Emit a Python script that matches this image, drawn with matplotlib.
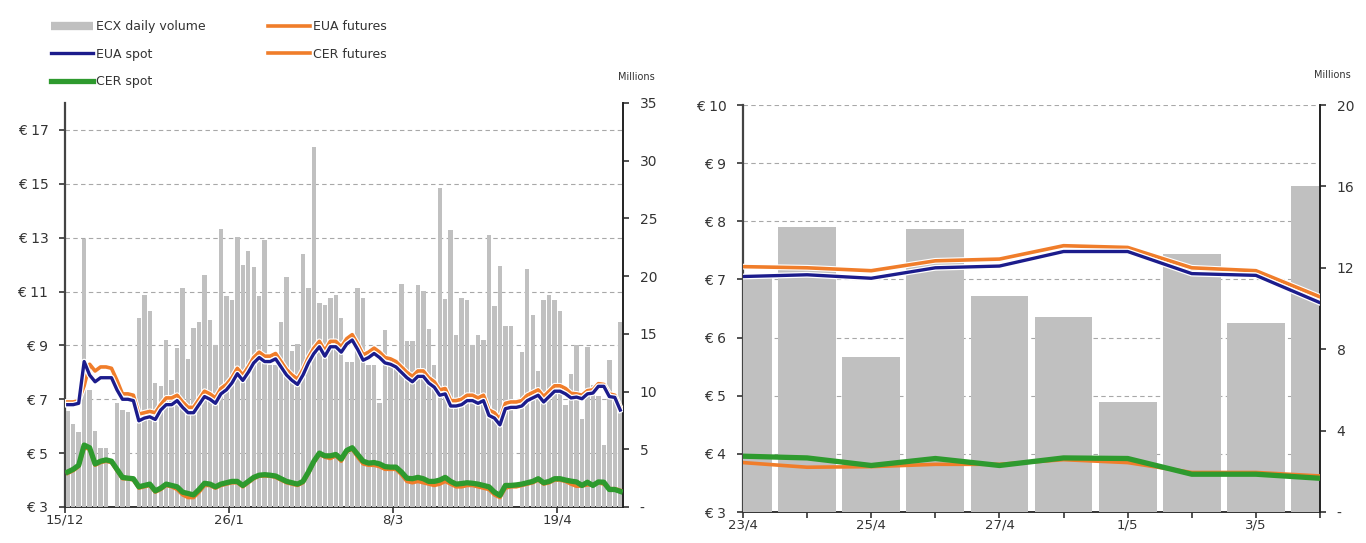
import pandas as pd
import matplotlib.pyplot as plt
from matplotlib.lines import Line2D
import matplotlib.patheffects as pe

# Trading days 15/12/2011 - 4/5/2012 (one category per weekday)
dates = pd.bdate_range('2011-12-15', '2012-05-04')
date_labels = [f'{d.day}/{d.month}' for d in dates]

nan = float('nan')

# ECX daily volume (millions)
ecx_volume = [
    8.3, 7.2, 6.5, 23.2, 10.1, 6.6, 5.1, 5.1, nan, 9.0,
    8.4, 8.2, nan, 16.4, 18.4, 17.0, 10.7, 10.5, 14.5, 11.0,
    13.8, 19.0, 12.8, 15.5, 16.0, 20.1, 16.2, 14.0, 24.1, 18.3,
    17.9, 23.4, 21.0, 22.2, 20.8, 18.3, 23.1, 12.3, 12.3, 16.0,
    19.9, 13.5, 14.1, 21.9, 19.0, 31.2, 17.7, 17.5, 18.1, 18.4,
    16.4, 12.6, 12.6, 19.0, 18.1, 12.3, 12.3, 9.0, 15.3, 12.7,
    12.7, 19.3, 14.4, 14.4, 19.2, 18.7, 15.4, 12.3, 27.6, 18.0,
    24.0, 14.9, 18.1, 17.9, 14.0, 14.9, 14.5, 23.6, 17.4, 20.9,
    15.7, 15.7, nan, 13.4, 20.6, 16.6, 11.8, 17.9, 18.4, 17.9,
    17.0, 8.8, 11.5, 14.0, 7.6, 13.9, 10.6, 9.6, 5.4, 12.7,
    9.3, 16.0,
]

eua_spot = [
    6.8, 6.8, 6.85, 8.4, 7.9, 7.65, 7.8, 7.8, 7.8, 7.35,
    7.0, 7.0, 6.95, 6.2, 6.3, 6.35, 6.25, 6.6, 6.8, 6.8,
    6.95, 6.7, 6.5, 6.5, 6.8, 7.1, 7.0, 6.85, 7.2, 7.35,
    7.6, 7.95, 7.7, 8.0, 8.35, 8.55, 8.4, 8.4, 8.5, 8.2,
    7.9, 7.7, 7.55, 7.9, 8.35, 8.7, 8.95, 8.6, 8.95, 8.95,
    8.75, 9.05, 9.2, 8.85, 8.45, 8.55, 8.7, 8.55, 8.35, 8.3,
    8.2, 8.0, 7.8, 7.65, 7.85, 7.85, 7.6, 7.45, 7.15, 7.2,
    6.75, 6.75, 6.8, 6.95, 6.95, 6.85, 6.95, 6.4, 6.3, 6.05,
    6.65, 6.7, 6.7, 6.75, 6.95, 7.05, 7.15, 6.9, 7.1, 7.3,
    7.3, 7.2, 7.05, 7.08, 7.02, 7.2, 7.23, 7.48, 7.48, 7.1,
    7.07, 6.6,
]

eua_futures = [
    6.9, 6.9, 6.95, 7.5, 8.3, 8.05, 8.2, 8.2, 8.15, 7.7,
    7.2, 7.2, 7.15, 6.45, 6.5, 6.55, 6.5, 6.8, 7.05, 7.05,
    7.15, 6.9, 6.7, 6.7, 7.0, 7.3, 7.2, 7.05, 7.4, 7.55,
    7.8, 8.15, 7.9, 8.2, 8.55, 8.75, 8.6, 8.6, 8.7, 8.4,
    8.1, 7.9, 7.75, 8.1, 8.55, 8.9, 9.15, 8.8, 9.15, 9.15,
    8.95, 9.25, 9.4, 9.05, 8.65, 8.75, 8.9, 8.75, 8.55, 8.5,
    8.4, 8.2, 8.0, 7.85, 8.05, 8.05, 7.8, 7.65, 7.35, 7.4,
    6.95, 6.95, 7.0, 7.15, 7.15, 7.05, 7.15, 6.6, 6.5, 6.25,
    6.85, 6.9, 6.9, 6.95, 7.15, 7.25, 7.35, 7.1, 7.3, 7.5,
    7.5, 7.4, 7.22, 7.2, 7.15, 7.32, 7.35, 7.58, 7.55, 7.2,
    7.15, 6.7,
]

cer_spot = [
    4.3, 4.4, 4.55, 5.3, 5.2, 4.6, 4.7, 4.75, 4.7, 4.4,
    4.1, 4.07, 4.05, 3.75, 3.8, 3.85, 3.6, 3.7, 3.85, 3.8,
    3.75, 3.55, 3.5, 3.45, 3.65, 3.88, 3.85, 3.75, 3.85, 3.9,
    3.95, 3.95, 3.8, 3.95, 4.1, 4.18, 4.2, 4.18, 4.15, 4.05,
    3.95, 3.9, 3.85, 3.95, 4.3, 4.7, 5.0, 4.9, 4.9, 4.95,
    4.78, 5.1, 5.2, 4.95, 4.7, 4.63, 4.65, 4.6, 4.5, 4.48,
    4.48, 4.3, 4.07, 4.05, 4.1, 4.05, 3.95, 3.95, 4.0, 4.1,
    3.95, 3.85, 3.87, 3.9, 3.88, 3.85, 3.8, 3.75, 3.55, 3.43,
    3.8, 3.8, 3.82, 3.85, 3.9, 3.95, 4.05, 3.9, 3.95, 4.05,
    4.05, 4.0, 3.96, 3.93, 3.8, 3.92, 3.8, 3.93, 3.92, 3.65,
    3.65, 3.58,
]

cer_futures = [
    4.25, 4.35, 4.5, 5.2, 5.15, 4.55, 4.65, 4.7, 4.65, 4.35,
    4.05, 4.05, 4.0, 3.7, 3.75, 3.8, 3.55, 3.65, 3.8, 3.75,
    3.65, 3.45, 3.35, 3.35, 3.55, 3.8, 3.8, 3.7, 3.8, 3.85,
    3.9, 3.9, 3.75, 3.9, 4.05, 4.15, 4.15, 4.15, 4.1, 4.0,
    3.9, 3.85, 3.8, 3.9, 4.25, 4.65, 4.95, 4.85, 4.8, 4.9,
    4.7, 5.05, 5.15, 4.85, 4.6, 4.55, 4.55, 4.5, 4.4, 4.4,
    4.4, 4.2, 3.95, 3.9, 3.95, 3.9, 3.85, 3.8, 3.85, 3.95,
    3.85, 3.75, 3.75, 3.8, 3.8, 3.75, 3.7, 3.65, 3.45, 3.35,
    3.7, 3.75, 3.75, 3.8, 3.85, 3.9, 4.0, 3.85, 3.9, 4.0,
    4.0, 3.95, 3.85, 3.77, 3.78, 3.82, 3.82, 3.9, 3.85, 3.68,
    3.68, 3.62,
]

# colours
GREY = '#c0c0c0'
NAVY = '#1c1c8c'
ORANGE = '#f07d2a'
GREEN = '#2e9a2e'
TXT = '#333333'

W, H = 1366, 543
fig = plt.figure(figsize=(W / 100, H / 100), dpi=100)


def euro(v, pos=None):
    return f'€ {int(v)}'


def millions(v, pos=None):
    return '-' if v == 0 else f'{int(v)}'


def panel(x0, x1, ytop, ybot, xs, vol, eua_s, eua_f, cer_s, cer_f,
          plim, pticks, vlim, vticks, bar_w, xlim):
    rect = [x0 / W, 1 - ybot / H, (x1 - x0) / W, (ybot - ytop) / H]
    axg = fig.add_axes(rect)        # price axis + grid (bottom layer)
    axv = axg.twinx()               # volume bars
    axl = axg.twinx()               # price lines (top layer)
    axg.set_zorder(1)
    axv.set_zorder(2)
    axl.set_zorder(3)
    axv.patch.set_visible(False)
    axl.patch.set_visible(False)

    axv.bar(xs, vol, width=bar_w, color=GREY, linewidth=0)

    halo = [pe.Stroke(linewidth=4.2, foreground='white'), pe.Normal()]
    axl.plot(xs, eua_f, color=ORANGE, lw=2.6, solid_joinstyle='round',
             path_effects=halo)
    axl.plot(xs, eua_s, color=NAVY, lw=2.4, solid_joinstyle='round',
             path_effects=halo)
    axl.plot(xs, cer_f, color=ORANGE, lw=2.6, solid_joinstyle='round')
    axl.plot(xs, cer_s, color=GREEN, lw=3.8, solid_joinstyle='round')

    for a in (axg, axv, axl):
        a.set_xlim(*xlim)
    axg.set_ylim(*plim)
    axl.set_ylim(*plim)
    axv.set_ylim(*vlim)
    axl.set_axis_off()

    axg.set_yticks(pticks)
    axg.yaxis.set_major_formatter(plt.FuncFormatter(euro))
    axg.yaxis.grid(True, color='#a8a8a8', lw=0.8, linestyle=(0, (4, 3)))
    axg.set_axisbelow(True)
    axv.set_yticks(vticks)
    axv.yaxis.set_major_formatter(plt.FuncFormatter(millions))

    axg.spines['top'].set_visible(False)
    axg.spines['right'].set_visible(False)
    axg.spines['left'].set_color('#444444')
    axg.spines['left'].set_linewidth(1.6)
    axg.spines['bottom'].set_color('#333333')
    axg.spines['bottom'].set_linewidth(1.4)
    for s in ('top', 'left', 'bottom'):
        axv.spines[s].set_visible(False)
    axv.spines['right'].set_color('#222222')
    axv.spines['right'].set_linewidth(1.4)

    axg.tick_params(axis='y', labelsize=10, colors=TXT, length=4, width=1.2,
                    pad=8)
    axv.tick_params(axis='y', labelsize=10, colors=TXT, length=4, width=1.2,
                    pad=8)
    axg.tick_params(axis='x', labelsize=9.5, colors=TXT, length=4, width=1.2,
                    pad=1)
    return axg, axv


n = len(dates)
xs_left = [i + 0.5 for i in range(n)]
axL, axLv = panel(65, 623, 103, 507, xs_left, ecx_volume, eua_spot,
                  eua_futures, cer_spot, cer_futures,
                  (3, 18), range(3, 18, 2), (0, 35), range(0, 36, 5),
                  0.8, (0, n))
tick_idx = [0, 30, 60, 90]
axL.set_xticks(tick_idx)
axL.set_xticklabels([date_labels[i] for i in tick_idx])

# last two weeks
k = 10
xs_right = list(range(k))
axR, axRv = panel(743, 1320, 105, 512, xs_right, ecx_volume[-k:],
                  eua_spot[-k:], eua_futures[-k:], cer_spot[-k:],
                  cer_futures[-k:],
                  (3, 10), range(3, 11), (0, 20), range(0, 21, 4),
                  0.9, (0, k - 1))
axR.set_xticks(xs_right)
axR.set_xticklabels([lab if i % 2 == 0 else ''
                     for i, lab in enumerate(date_labels[-k:])])

fig.text(636 / W, 1 - 77 / H, 'Millions', fontsize=7, color=TXT,
         ha='center', va='center')
fig.text(1332 / W, 1 - 75 / H, 'Millions', fontsize=7, color=TXT,
         ha='center', va='center')

handles = [
    Line2D([], [], color=GREY, lw=6, solid_capstyle='butt'),
    Line2D([], [], color=NAVY, lw=2.4),
    Line2D([], [], color=GREEN, lw=3.8),
    Line2D([], [], color=ORANGE, lw=2.6),
    Line2D([], [], color=ORANGE, lw=2.6),
]
labels = ['ECX daily volume', 'EUA spot', 'CER spot', 'EUA futures',
          'CER futures']
leg = fig.legend(handles, labels, ncol=2, loc='upper left',
                 bbox_to_anchor=(40 / W, 1 - 9 / H), frameon=False,
                 fontsize=9, handlelength=3.3, handletextpad=0.3,
                 columnspacing=5.0, labelspacing=1.15)
for t in leg.get_texts():
    t.set_color(TXT)

fig.savefig('out.png', dpi=100)
